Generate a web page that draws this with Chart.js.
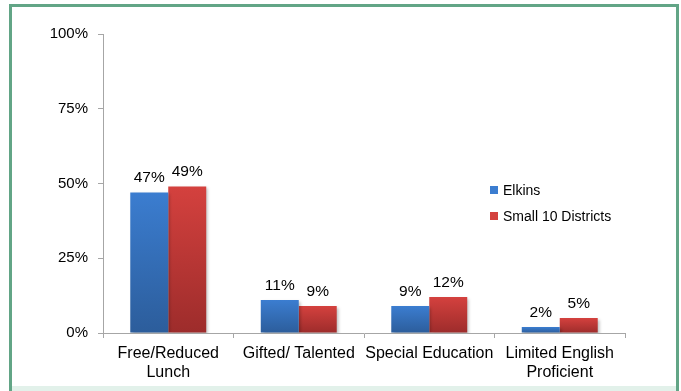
<!DOCTYPE html>
<html>
<head>
<meta charset="utf-8">
<script src="https://cdn.jsdelivr.net/npm/chart.js@4"></script>
<style>
    body { margin: 0; background: #fff; font-family: "Liberation Sans", Arial, sans-serif; }
    #wrap { position: relative; width: 681px; height: 391px; overflow: hidden; }
    #frame { position: absolute; left: 9px; top: 4px; width: 664px; height: 388px; border: 3px solid #62a586; box-sizing: content-box; }
    #strip { position: absolute; left: 12px; top: 386px; width: 664px; height: 5px; background: #e2f1ea; }
    canvas { position: absolute; left: 0; top: 0; }
    #legend { position: absolute; left: 490px; top: 181px; font-size: 14px; color: #000; }
    #legend div { height: 26px; line-height: 18px; white-space: nowrap; }
    #legend span { display: inline-block; width: 8px; height: 8px; margin-right: 5px; vertical-align: 1px; }
</style>
</head>
<body>
<div id="wrap">
    <div id="frame"></div>
    <div id="strip"></div>
    <canvas id="barChart" width="681" height="391"></canvas>
    <div id="legend"></div>
</div>
<script>
const categories = [['Free/Reduced', 'Lunch'], 'Gifted/ Talented', 'Special Education', ['Limited English', 'Proficient']];
const elkins = [47, 11, 9, 2];
const small10 = [49, 9, 12, 5];
const yTicks = [0, 25, 50, 75, 100];
const seriesNames = ['Elkins', 'Small 10 Districts'];

function barGradient(ctx, top, bottom) {
    return function (context) {
        const chart = context.chart;
        const y = chart.scales.y;
        if (!chart.chartArea || !y) return top;
        const yTop = y.getPixelForValue(context.raw);
        const yBot = y.getPixelForValue(0);
        const g = chart.ctx.createLinearGradient(0, yTop, 0, yBot + 0.01);
        g.addColorStop(0, top);
        g.addColorStop(1, bottom);
        return g;
    };
}

// labels above bars
const valueLabels = {
    id: 'valueLabels',
    afterDatasetsDraw(chart) {
        const ctx = chart.ctx;
        ctx.save();
        ctx.font = '15.5px "Liberation Sans", Arial, sans-serif';
        ctx.fillStyle = '#000';
        ctx.textAlign = 'center';
        ctx.textBaseline = 'alphabetic';
        chart.data.datasets.forEach((ds, i) => {
            chart.getDatasetMeta(i).data.forEach((bar, j) => {
                ctx.fillText(ds.data[j] + '%', bar.x, bar.y - 10);
            });
        });
        ctx.restore();
    }
};

// soft shadow under the bars
const barShadow = {
    id: 'barShadow',
    beforeDatasetsDraw(chart) {
        const ctx = chart.ctx;
        ctx.save();
        ctx.shadowColor = 'rgba(0,0,0,0.25)';
        ctx.shadowBlur = 3;
        ctx.shadowOffsetX = 2;
        ctx.shadowOffsetY = 2;
    },
    afterDatasetsDraw(chart) {
        chart.ctx.restore();
    }
};

const ctx = document.getElementById('barChart').getContext('2d');
const chart = new Chart(ctx, {
    type: 'bar',
    data: {
        labels: categories,
        datasets: [{
            label: seriesNames[0],
            data: elkins,
            backgroundColor: barGradient(ctx, '#3b7dd0', '#2c5d9b')
        }, {
            label: seriesNames[1],
            data: small10,
            backgroundColor: barGradient(ctx, '#d4413e', '#9d2c2b')
        }]
    },
    options: {
        responsive: false,
        animation: false,
        devicePixelRatio: 1,
        categoryPercentage: 0.582,
        barPercentage: 1,
        layout: { padding: { left: 0, top: 34, right: 56, bottom: 0 } },
        plugins: {
            legend: { display: false },
            tooltip: { enabled: false }
        },
        scales: {
            x: {
                grid: { display: true, drawOnChartArea: false, offset: true, color: '#a6a6a6', tickLength: 5 },
                border: { color: '#a6a6a6' },
                ticks: {
                    color: '#000',
                    padding: 6,
                    maxRotation: 0,
                    autoSkip: false,
                    font: { family: '"Liberation Sans", Arial, sans-serif', size: 16, lineHeight: 1.2 }
                },
                afterFit: s => { s.height = 58; }
            },
            y: {
                min: 0,
                max: 100,
                afterBuildTicks: s => { s.ticks = yTicks.map(v => ({ value: v })); },
                grid: { display: true, drawOnChartArea: false, color: '#a6a6a6', tickLength: 5 },
                border: { color: '#a6a6a6' },
                ticks: {
                    color: '#000',
                    padding: 10,
                    callback: v => v + '%',
                    font: { family: '"Liberation Sans", Arial, sans-serif', size: 15 }
                },
                afterFit: s => { s.width = 103; }
            }
        }
    },
    plugins: [barShadow, valueLabels]
});

// legend
const colors = ['#3b7dd0', '#d4413e'];
document.getElementById('legend').innerHTML = seriesNames
    .map((n, i) => `<div><span style="background:${colors[i]}"></span>${n}</div>`)
    .join('');
</script>
</body>
</html>
